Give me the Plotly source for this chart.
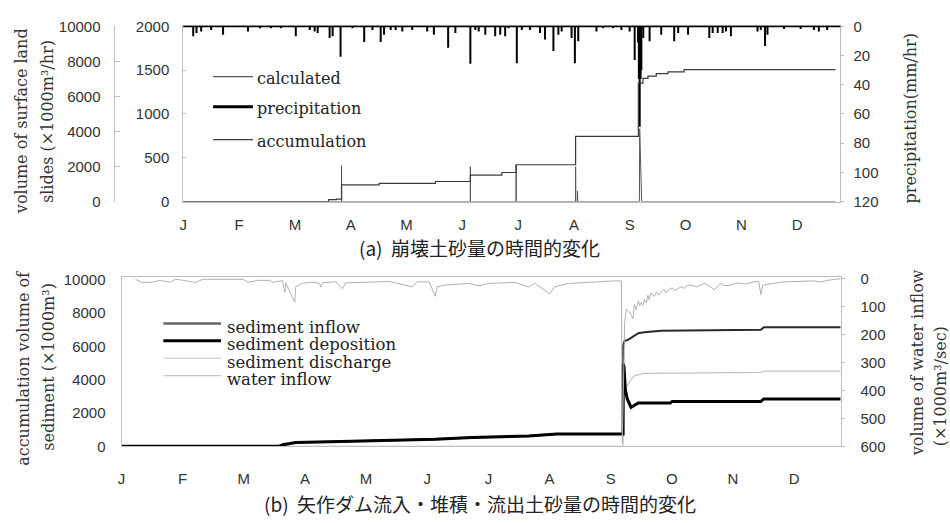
import plotly.graph_objects as go

W, H = 950, 523

# ---------------- data: (a) surface landslide volume ----------------
months = ["J", "F", "M", "A", "M", "J", "J", "A", "S", "O", "N", "D"]
tick_hours = [k * 744 for k in range(12)]

# hourly precipitation events (hour of year, mm/hr)
prcp_hours = [133, 177, 239, 372, 531, 863, 1022, 1168, 1301, 1500, 1686, 1752, 1792, 1951, 1991,
              2097, 2256, 2412, 2522, 2632, 2677, 2765, 2831, 2920, 3052, 3252, 3341, 3531, 3627,
              3827, 3893, 3938, 4026, 4158, 4225, 4291, 4336, 4446, 4513, 4623, 4756, 4822, 4934,
              5000, 5044, 5176, 5220, 5265, 5508, 5597, 5730, 5840, 5950, 6017, 6062, 6073, 6084,
              6096, 6106, 6132, 6216, 6371, 6544, 6597, 6729, 7012, 7057, 7124, 7190, 7234, 7300,
              7654, 7698, 7755, 7787, 8008, 8229, 8406, 8472, 8583]
prcp_values = [6.8, 4.6, 3.5, 2.4, 5.7, 3.5, 1.3, 1.3, 1.3, 6.8, 2.4, 3.5, 4.6, 8.0, 6.8,
               20.8, 1.3, 10.6, 2.4, 10.6, 5.7, 2.4, 2.4, 3.5, 2.4, 3.5, 5.7, 14.6, 4.6,
               25.6, 2.4, 3.5, 5.7, 6.8, 5.7, 6.8, 1.3, 25.2, 2.4, 2.4, 4.6, 9.0, 16.8,
               5.7, 3.5, 8.0, 25.2, 10.2, 3.5, 1.3, 1.3, 2.4, 3.5, 23.0, 11.0, 36.0, 68.7,
               36.0, 30.0, 8.0, 10.2, 5.7, 10.2, 4.6, 5.7, 8.0, 4.6, 4.6, 4.6, 3.5, 6.8,
               3.5, 2.4, 13.5, 5.7, 1.8, 1.8, 2.4, 3.5, 2.4]

# calculated hourly landslide volume
calc_hours = [0, 2109, 2110, 2112, 3826, 3827, 3829, 4436, 4437, 4439, 5229, 5230, 5232,
              5254, 5255, 5257, 6080, 6084, 6110, 8694]
calc_values = [0, 0, 409, 0, 0, 398, 0, 0, 420, 0, 0, 398, 0, 0, 122, 0, 0, 830, 0, 0]

# accumulated landslide volume (value holds from each hour on)
acc_hours = [0, 1938, 2040, 2110, 2611, 3362, 3827, 4247, 4437, 5230, 6066, 6128, 6194,
             6305, 6460, 6676, 8694]
acc_values = [0, 110, 140, 956, 1033, 1144, 1508, 1657, 2099, 3718, 6757, 7033, 7166,
              7309, 7403, 7530, 7530]

# ---------------- data: (b) Yahagi dam sediment budget ----------------
water_hours = [170, 242, 363, 473, 594, 654, 751, 897, 994, 1478, 1539, 1660, 1805, 1842, 1960,
               1987, 1999, 2108, 2120, 2205, 2326, 2411, 2423, 2450, 2605, 2690, 2726, 3017, 3259,
               3538, 3598, 3744, 3817, 3841, 3938, 4228, 4350, 4471, 4786, 4955, 5028, 5210, 5270,
               5440, 5755, 5997, 6082, 6094, 6122, 6143, 6180, 6224, 6240, 6262, 6290, 6305, 6325,
               6345, 6361, 6385, 6405, 6421, 6445, 6482, 6510, 6535, 6567, 6600, 6625, 6652, 6700,
               6725, 6809, 6850, 6880, 6930, 7000, 7088, 7150, 7209, 7294, 7340, 7415, 7500, 7600,
               7694, 7754, 7779, 7803, 7936, 8020, 8106, 8250, 8421, 8505, 8590, 8748]
water_values = [3, 14, 14, 7, 14, 3, 7, 14, 3, 3, 14, 7, 7, 14, 8,
                50, 17, 85, 30, 17, 14, 18, 31, 15, 12, 37, 16, 12, 11,
                30, 12, 13, 64, 30, 24, 18, 27, 18, 14, 31, 18, 55, 30,
                18, 12, 9, 9, 590, 155, 110, 120, 144, 92, 112, 80, 98, 85,
                96, 75, 88, 60, 76, 52, 64, 48, 60, 47, 38, 52, 41, 34,
                44, 30, 36, 24, 24, 30, 18, 26, 41, 18, 26, 24, 16, 20,
                12, 12, 58, 24, 17, 14, 12, 10, 9, 13, 7, 1]

inflow_hours = [0, 1914, 1963, 2120, 2666, 3817, 4265, 4955, 5295, 6103, 6104, 6118, 6167,
                6228, 6288, 6361, 6567, 7779, 7815, 8748]
inflow_values = [0, 0, 100, 230, 290, 420, 530, 620, 740, 740, 6030, 6320, 6410,
                 6610, 6800, 6860, 6940, 7000, 7150, 7150]

deposition_hours = [0, 1914, 1963, 2120, 2666, 3817, 4265, 4955, 5295, 6103, 6104, 6115, 6130,
                    6155, 6200, 6235, 6288, 6676, 6700, 7779, 7815, 8748]
deposition_values = [0, 0, 100, 230, 290, 420, 530, 620, 740, 740, 4960, 4770, 3410,
                     2830, 2340, 2440, 2600, 2600, 2700, 2700, 2850, 2850]

discharge_hours = [0, 6103, 6110, 6143, 6200, 6240, 6361, 6930, 7779, 7815, 8748]
discharge_values = [0, 0, 2600, 3600, 4000, 4250, 4380, 4420, 4440, 4520, 4520]

# tick values of the value axes
slide_ticks = [0, 500, 1000, 1500, 2000]
acc_ticks = [0, 2000, 4000, 6000, 8000, 10000]
prcp_ticks = [0, 20, 40, 60, 80, 100, 120]
water_ticks = [0, 100, 200, 300, 400, 500, 600]


def px(x):
    return x / W


def py(y):
    return 1 - y / H


# precipitation drawn as hanging sticks
stick_x, stick_y = [], []
for h, v in zip(prcp_hours, prcp_values):
    stick_x += [h, h, None]
    stick_y += [0, v, None]

SANS = "Liberation Sans"
SERIF = "DejaVu Serif"
CJK = "Noto Sans CJK JP"
FRAME = "#bdbdbd"
TICKFONT = dict(family=SANS, size=15, color="#333333")

fig = go.Figure()

fig.add_trace(go.Scatter(x=calc_hours, y=calc_values, mode="lines", xaxis="x", yaxis="y",
                         line=dict(color="#555555", width=1), name="calculated"))
fig.add_trace(go.Scatter(x=stick_x, y=stick_y, mode="lines", xaxis="x", yaxis="y2",
                         line=dict(color="black", width=2), name="precipitation"))
fig.add_trace(go.Scatter(x=acc_hours, y=acc_values, mode="lines", xaxis="x", yaxis="y3",
                         line=dict(color="#3a3a3a", width=1.2, shape="hv"), name="accumulation"))

fig.add_trace(go.Scatter(x=discharge_hours, y=discharge_values, mode="lines", xaxis="x2", yaxis="y4",
                         line=dict(color="#c4c4c4", width=1.2), name="sediment discharge"))
fig.add_trace(go.Scatter(x=inflow_hours, y=inflow_values, mode="lines", xaxis="x2", yaxis="y4",
                         line=dict(color="#2a2a2a", width=2), name="sediment inflow"))
fig.add_trace(go.Scatter(x=deposition_hours, y=deposition_values, mode="lines", xaxis="x2", yaxis="y4",
                         line=dict(color="black", width=3), name="sediment deposition"))
fig.add_trace(go.Scatter(x=water_hours, y=water_values, mode="lines", xaxis="x2", yaxis="y5",
                         line=dict(color="#b0b0b0", width=1), name="water inflow"))

top_dom = [py(199), py(18)]
bot_dom = [py(452), py(277)]

common_x = dict(range=[0, 8760], tickmode="array", tickvals=tick_hours, ticktext=months,
                showline=True, linecolor=FRAME, linewidth=1, mirror=True, showgrid=False,
                zeroline=False, ticks="", tickfont=TICKFONT)


def value_ticks(vals):
    return dict(tickmode="array", tickvals=vals, ticktext=[str(v) for v in vals])


fig.update_layout(
    width=W, height=H, autosize=False,
    margin=dict(l=0, r=0, t=0, b=0),
    paper_bgcolor="white", plot_bgcolor="white",
    showlegend=False,
    xaxis=dict(domain=[px(180), px(840)], anchor="y", ticklabelstandoff=9, **common_x),
    yaxis=dict(domain=top_dom, anchor="x", range=[0, 2000], **value_ticks(slide_ticks),
               showline=True, linecolor=FRAME, mirror=True, showgrid=False, zeroline=False,
               ticks="inside", ticklen=3, tickcolor=FRAME, tickfont=TICKFONT, ticklabelstandoff=10),
    yaxis2=dict(overlaying="y", side="right", anchor="x", range=[120, 0], **value_ticks(prcp_ticks),
                showline=True, linecolor=FRAME,
                showgrid=False, zeroline=False, ticks="outside", ticklen=3, tickcolor=FRAME,
                tickfont=TICKFONT, ticklabelstandoff=6),
    yaxis3=dict(overlaying="y", side="left", anchor="free", position=px(110), range=[0, 10000],
                **value_ticks(acc_ticks), showline=True, linecolor=FRAME,
                showgrid=False, zeroline=False, ticks="inside", ticklen=5, tickcolor=FRAME,
                tickfont=TICKFONT, ticklabelstandoff=10),
    xaxis2=dict(domain=[px(118), px(841)], anchor="y4", ticklabelstandoff=19, **common_x),
    yaxis4=dict(domain=bot_dom, anchor="x2", range=[0, 10174], **value_ticks(acc_ticks),
                showline=True, linecolor=FRAME,
                mirror=True, showgrid=False, zeroline=False, ticks="", tickfont=TICKFONT,
                ticklabelstandoff=12),
    yaxis5=dict(overlaying="y4", side="right", anchor="x2", range=[600, -5], **value_ticks(water_ticks),
                showline=True, linecolor=FRAME,
                showgrid=False, zeroline=False, ticks="outside", ticklen=3, tickcolor=FRAME,
                tickfont=TICKFONT, ticklabelstandoff=12),
)

# dark upper edge of the precipitation panel
fig.add_shape(type="line", xref="x domain", yref="y domain", x0=0, x1=1, y0=1, y1=1,
              line=dict(color="black", width=1.5))

# ---- legends drawn as sample lines + labels ----
top_legend = [("calculated", 72, "#555555", 1.2), ("precipitation", 103, "black", 3),
              ("accumulation", 137, "#3a3a3a", 1.2)]
for label, yy, col, lw in top_legend:
    fig.add_shape(type="line", xref="paper", yref="paper", x0=px(210), x1=px(250), y0=py(yy - 2),
                  y1=py(yy - 2), line=dict(color=col, width=lw))
    fig.add_annotation(text=label, xref="paper", yref="paper", x=px(252), y=py(yy), xanchor="left",
                       yanchor="middle", showarrow=False, font=dict(family=SERIF, size=16, color="#222"))

bot_legend = [("sediment inflow", 329, "#666666", 2.5), ("sediment deposition", 347, "black", 3),
              ("sediment discharge", 365, "#c8c8c8", 1.2), ("water inflow", 383, "#c8c8c8", 1.2)]
for label, yy, col, lw in bot_legend:
    fig.add_shape(type="line", xref="paper", yref="paper", x0=px(160), x1=px(218), y0=py(yy - 4),
                  y1=py(yy - 4), line=dict(color=col, width=lw))
    fig.add_annotation(text=label, xref="paper", yref="paper", x=px(222), y=py(yy), xanchor="left",
                       yanchor="middle", showarrow=False, font=dict(family=SERIF, size=16.5, color="#222"))

# ---- axis titles ----
titles = [
    ("volume of surface land", 17, 116),
    ("slides (×1000m³/hr)", 43, 116),
    ("precipitation(mm/hr)", 910, 113),
    ("accumulation volume of", 20, 371),
    ("sediment (×1000m³)", 45, 370),
    ("volume of water inflow", 917, 366),
    ("(×1000m³/sec)", 940, 390),
]
for text, xx, yy in titles:
    fig.add_annotation(text=text, xref="paper", yref="paper", x=px(xx), y=py(yy), textangle=-90,
                       xanchor="center", yanchor="middle", showarrow=False,
                       font=dict(family=SERIF, size=16, color="#333"))

# ---- panel captions ----
fig.add_annotation(text="(a)  崩壊土砂量の時間的変化", xref="paper", yref="paper", x=px(478), y=py(246),
                   xanchor="center", yanchor="middle", showarrow=False,
                   font=dict(family=CJK, size=19, color="#222"))
fig.add_annotation(text="(b)  矢作ダム流入・堆積・流出土砂量の時間的変化", xref="paper", yref="paper",
                   x=px(478), y=py(511), xanchor="center", yanchor="middle", showarrow=False,
                   font=dict(family=CJK, size=19, color="#222"))

fig.write_html("out.html")
